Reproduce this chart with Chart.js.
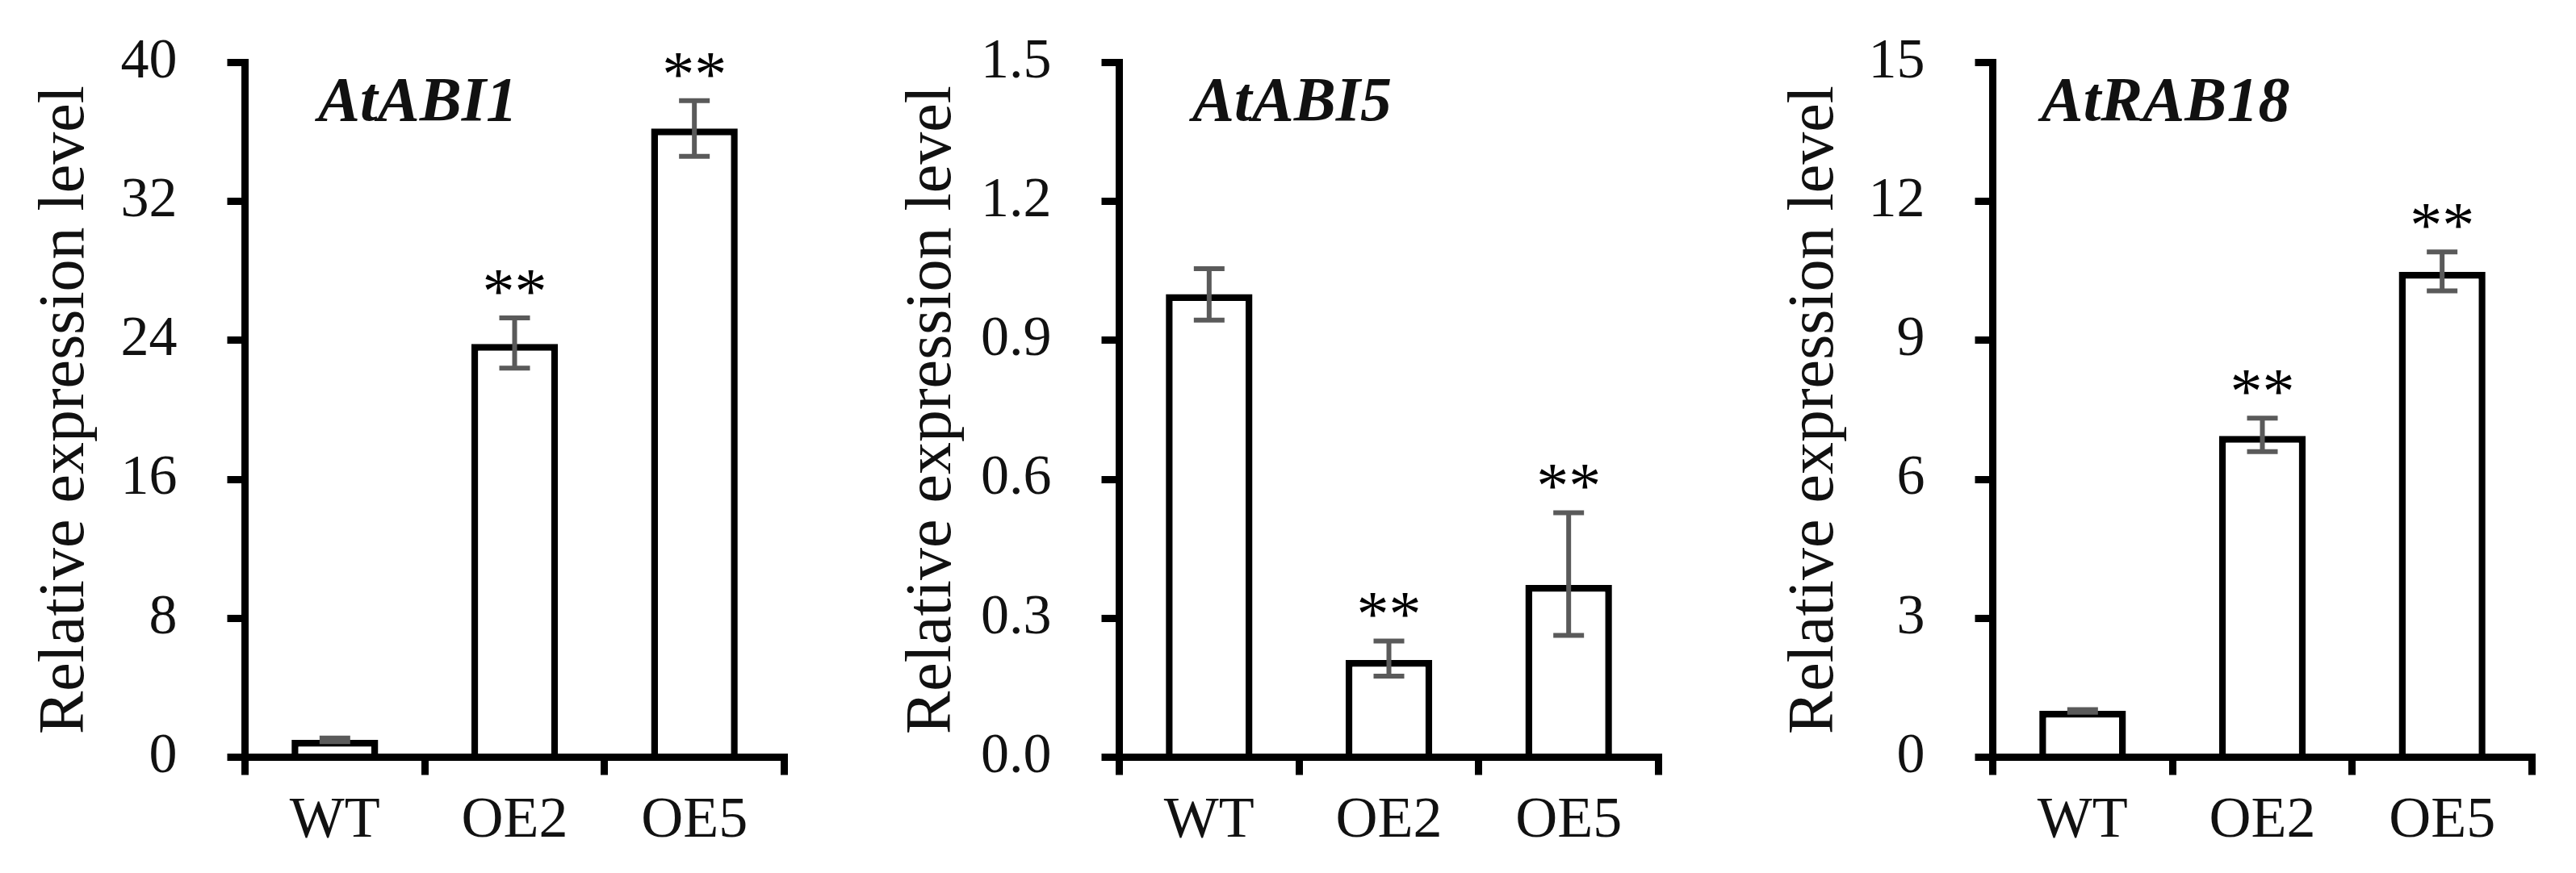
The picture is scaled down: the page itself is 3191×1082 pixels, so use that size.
<!DOCTYPE html>
<html>
<head>
<meta charset="utf-8">
<script src="https://cdn.jsdelivr.net/npm/chart.js@4.4.1/dist/chart.umd.min.js"></script>
<style>
html, body { margin: 0; padding: 0; background: #ffffff; }
body { width: 3191px; height: 1082px; position: relative; overflow: hidden; }
.panel { position: absolute; top: 0; height: 1082px; }
canvas { display: block; }
</style>
</head>
<body>
<div class="panel" style="left:0px;width:1080px"><canvas id="c1" width="1080" height="1082"></canvas></div>
<div class="panel" style="left:1080px;width:1080px"><canvas id="c2" width="1080" height="1082"></canvas></div>
<div class="panel" style="left:2160px;width:1031px"><canvas id="c3" width="1031" height="1082"></canvas></div>
<script>
// ---------------- data ----------------
const categories = ['WT', 'OE2', 'OE5'];
const yAxisTitle = 'Relative expression level';

const abi1Name = 'AtABI1';
const abi1Values = [1.0, 23.8, 36.2];
const abi1ErrUp = [0.1, 1.5, 1.6];
const abi1ErrDown = [0.1, 1.4, 1.6];
const abi1Sig = ['', '**', '**'];
const abi1Max = 40, abi1Step = 8, abi1Decimals = 0;

const abi5Name = 'AtABI5';
const abi5Values = [1.0, 0.21, 0.372];
const abi5ErrUp = [0.055, 0.041, 0.156];
const abi5ErrDown = [0.056, 0.035, 0.109];
const abi5Sig = ['', '**', '**'];
const abi5Max = 1.5, abi5Step = 0.3, abi5Decimals = 1;

const rab18Name = 'AtRAB18';
const rab18Values = [1.0, 6.94, 10.48];
const rab18ErrUp = [0.03, 0.38, 0.43];
const rab18ErrDown = [0.03, 0.34, 0.41];
const rab18Sig = ['', '**', '**'];
const rab18Max = 15, rab18Step = 3, rab18Decimals = 0;

// ---------------- style / layout ----------------
const FONT = "'Liberation Serif', 'Times New Roman', serif";
const TEXT = '#111111';
const ERR = '#5a5a5a';

const errorBarPlugin = {
  id: 'errorBars',
  afterDatasetsDraw(chart, args, opts) {
    const ctx = chart.ctx;
    const meta = chart.getDatasetMeta(0);
    const y = chart.scales.y;
    const ds = chart.data.datasets[0];
    ctx.save();
    meta.data.forEach((bar, i) => {
      const v = ds.data[i];
      const yTop = y.getPixelForValue(v + opts.up[i]);
      const yBot = y.getPixelForValue(v - opts.down[i]);
      const x = bar.x;
      ctx.strokeStyle = ERR;
      ctx.lineWidth = 6;
      ctx.lineCap = 'butt';
      ctx.beginPath();
      ctx.moveTo(x, yTop); ctx.lineTo(x, yBot);
      ctx.moveTo(x - 19, yTop); ctx.lineTo(x + 19, yTop);
      ctx.moveTo(x - 19, yBot); ctx.lineTo(x + 19, yBot);
      ctx.stroke();
      if (opts.sig[i]) {
        ctx.fillStyle = '#000';
        ctx.font = '80px ' + FONT;
        ctx.textAlign = 'center';
        ctx.textBaseline = 'alphabetic';
        ctx.fillText(opts.sig[i], x, yTop - 6);
      }
    });
    // gene name
    ctx.fillStyle = TEXT;
    ctx.font = 'italic bold 78px ' + FONT;
    ctx.textAlign = 'center';
    ctx.textBaseline = 'alphabetic';
    ctx.fillText(opts.name, chart.chartArea.left + 214, 149);
    ctx.restore();
  }
};

function makePanel(id, lay, name, values, up, down, sig, max, step, decimals) {
  return new Chart(document.getElementById(id), {
    type: 'bar',
    data: {
      labels: categories,
      datasets: [{
        data: values,
        backgroundColor: '#ffffff',
        borderColor: '#000000',
        borderWidth: 8.5,
        borderSkipped: 'start',
        barPercentage: 0.482,
        categoryPercentage: 1.0
      }]
    },
    plugins: [errorBarPlugin],
    options: {
      responsive: false,
      animation: false,
      events: [],
      layout: { padding: { top: 77.5, right: lay.padR, left: 0, bottom: 0 } },
      plugins: {
        legend: { display: false },
        tooltip: { enabled: false },
        errorBars: { up: up, down: down, sig: sig, name: name }
      },
      scales: {
        x: {
          type: 'category',
          z: 1,
          offset: true,
          grid: { display: true, offset: true, drawOnChartArea: false, drawTicks: true,
                  tickLength: 22, lineWidth: 9, color: '#000', tickColor: '#000' },
          border: { display: true, color: '#000', width: 9 },
          ticks: { color: TEXT, font: { family: FONT, size: 72 }, padding: 14,
                   maxRotation: 0, autoSkip: false },
          afterFit: (s) => { s.height = 143.5; s.paddingLeft = 0; s.paddingRight = 0; }
        },
        y: {
          type: 'linear',
          min: 0, max: max,
          z: 1,
          grid: { display: true, drawOnChartArea: false, drawTicks: true,
                  tickLength: 22, lineWidth: 9, color: '#000', tickColor: '#000' },
          border: { display: true, color: '#000', width: 9 },
          ticks: { stepSize: step, color: TEXT, font: { family: FONT, size: 70 }, padding: 62,
                   callback: (v) => Number(v).toFixed(decimals) },
          title: { display: true, text: yAxisTitle, color: TEXT,
                   font: { family: FONT, size: 80 }, padding: { top: lay.titlePad, bottom: 0 } },
          afterFit: (s) => { s.width = lay.yW; s.paddingTop = 0; s.paddingBottom = 0; }
        }
      }
    }
  });
}

makePanel('c1', { yW: 303.5, padR: 108.5, titlePad: 34 },
  abi1Name, abi1Values, abi1ErrUp, abi1ErrDown, abi1Sig, abi1Max, abi1Step, abi1Decimals);
makePanel('c2', { yW: 306.5, padR: 105.5, titlePad: 27.6 },
  abi5Name, abi5Values, abi5ErrUp, abi5ErrDown, abi5Sig, abi5Max, abi5Step, abi5Decimals);
makePanel('c3', { yW: 308.5, padR: 54.5, titlePad: 40.9 },
  rab18Name, rab18Values, rab18ErrUp, rab18ErrDown, rab18Sig, rab18Max, rab18Step, rab18Decimals);
</script>
</body>
</html>
